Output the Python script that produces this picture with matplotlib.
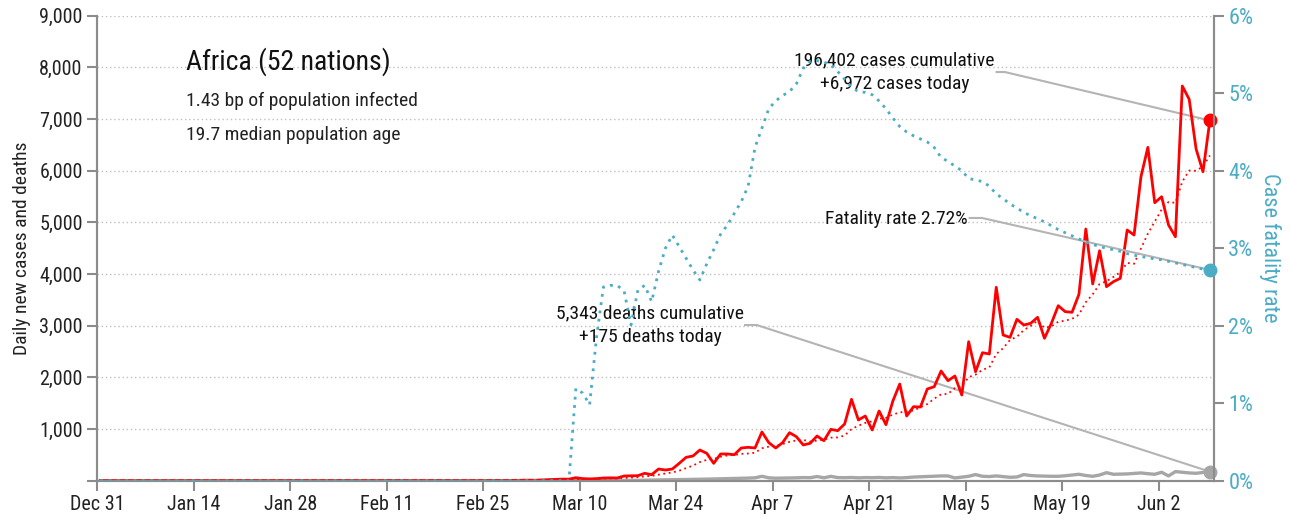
import matplotlib
matplotlib.use("Agg")
import matplotlib.pyplot as plt
from matplotlib import font_manager
import numpy as np

# narrow face first, DejaVu Sans as the fallback
installed = {f.name for f in font_manager.fontManager.ttflist}
wanted = ["Roboto Condensed", "Archivo Narrow", "Asap Condensed", "Liberation Sans Narrow"]
families = [n for n in wanted if n in installed][:1] + ["DejaVu Sans"]
plt.rcParams['font.family'] = families

# days counted from Dec 31 (index 0) to Jun 9 (index 161)
tick_days = [0, 14, 28, 42, 56, 70, 84, 98, 112, 126, 140, 154]
tick_labels = ["Dec 31", "Jan 14", "Jan 28", "Feb 11", "Feb 25", "Mar 10",
               "Mar 24", "Apr 7", "Apr 21", "May 5", "May 19", "Jun 2"]

# daily new cases
cases = [0] * 45 + [
    1, 0, 0, 0, 0, 0, 0, 0, 0, 0, 1, 2, 1, 3, 2, 5, 6, 10, 8,
    15, 20, 25, 30, 30, 58, 40, 35, 40, 52, 55, 52, 91, 95, 97, 143,
    116, 226, 207, 226, 336, 452, 478, 594, 530, 336, 517, 517, 503, 633,
    646, 633, 943, 736, 633, 736, 929, 852, 691, 724, 865, 774, 994, 968,
    1097, 1575, 1175, 1252, 981, 1349, 1084, 1542, 1871, 1252, 1432, 1426,
    1775, 1819, 2123, 1935, 2026, 1658, 2690, 2110, 2477, 2452, 3743, 2820,
    2774, 3124, 3013, 3046, 3162, 2756, 3046, 3387, 3272, 3259, 3607, 4871,
    3807, 4451, 3755, 3852, 3917, 4852, 4755, 5884, 6452, 5380, 5496, 4949,
    4722, 7639, 7381, 6420, 5980, 6972]

# 7-day average of cases
cases_avg = [0] * 45 + [
    0, 0, 0, 0, 0, 0, 0, 0, 0, 0, 0, 0, 1, 1, 1, 2, 2, 3, 4,
    5, 8, 11, 15, 18, 24, 31, 34, 37, 41, 44, 47, 52, 60, 69, 84,
    93, 117, 139, 159, 193, 244, 292, 360, 403, 422, 463, 489, 496, 519,
    526, 541, 627, 659, 675, 709, 751, 780, 789, 757, 776, 796, 833, 838,
    873, 1000, 1064, 1119, 1149, 1200, 1216, 1280, 1322, 1333, 1359, 1422,
    1483, 1588, 1671, 1680, 1791, 1823, 2004, 2052, 2146, 2193, 2451, 2564,
    2724, 2786, 2915, 2996, 3097, 2956, 2989, 3076, 3097, 3133, 3213, 3457,
    3607, 3808, 3860, 3943, 4037, 4215, 4198, 4495, 4781, 5013, 5248, 5395,
    5377, 5789, 6003, 5998, 6084, 6295]

# daily new deaths
deaths = [0] * 64 + [
    0, 0, 0, 0, 1, 1, 2, 3, 2, 3, 4, 5, 4, 6, 8, 10,
    12, 14, 15, 18, 20, 22, 25, 28, 30, 33, 35, 38, 40, 45, 50, 55,
    85, 55, 48, 50, 52, 55, 60, 58, 80, 56, 84, 60, 58, 62, 55, 60,
    58, 62, 55, 60, 53, 60, 70, 75, 79, 85, 92, 92, 53, 70, 85, 118,
    85, 80, 92, 80, 66, 72, 118, 100, 92, 88, 85, 85, 95, 110, 124,
    100, 85, 110, 155, 124, 128, 131, 140, 150, 135, 124, 163, 92, 176,
    163, 150, 143, 160, 175]

# case fatality rate, percent
cfr = [0] * 69 + [
    1.19, 1.13, 0.98, 1.85, 2.50, 2.52, 2.52, 2.45, 2.01, 2.46, 2.52,
    2.31, 2.70, 3.00, 3.17, 3.02, 2.87, 2.72, 2.59, 2.80, 2.98, 3.18,
    3.30, 3.45, 3.60, 3.80, 4.30, 4.55, 4.80, 4.90, 4.97, 5.02, 5.12,
    5.32, 5.41, 5.42, 5.40, 5.37, 5.28, 5.18, 5.08, 5.02, 5.01, 4.98,
    4.90, 4.80, 4.68, 4.57, 4.50, 4.45, 4.41, 4.37, 4.30, 4.17, 4.12,
    4.06, 4.00, 3.90, 3.88, 3.86, 3.80, 3.70, 3.64, 3.57, 3.52, 3.46,
    3.42, 3.38, 3.34, 3.29, 3.24, 3.20, 3.16, 3.12, 3.08, 3.05, 3.02,
    3.00, 2.98, 2.96, 2.93, 2.91, 2.89, 2.88, 2.86, 2.85, 2.83, 2.81,
    2.79, 2.77, 2.75, 2.73, 2.72]

RED = "#ff0000"
TEAL = "#4bacc6"
GRAY = "#a6a6a6"
AXIS = "#8c8c8c"
LINK = "#b4b4b4"

# data points sit near the middle of each day
x = np.arange(len(cases)) + 0.45

fig = plt.figure(figsize=(12.91, 5.20), dpi=100)
ax = fig.add_axes([0.0753, 0.0756, 0.8648, 0.8942])
ax2 = ax.twinx()

ax.set_xlim(0, 162)
ax.set_ylim(0, 9000)
ax2.set_ylim(0, 6)

ax.yaxis.grid(True, color="#c0c0c0", linestyle=(0, (1, 2)), linewidth=1)
ax.set_axisbelow(True)

ax.plot(x, deaths, color=GRAY, linewidth=2.4, zorder=3)
ax.plot(x, cases_avg, color=RED, linewidth=1.3, linestyle=(0, (1, 2)), zorder=4)
ax.plot(x, cases, color=RED, linewidth=2.0, zorder=5)
ax2.plot(x, cfr, color=TEAL, linewidth=2.0, linestyle=(0, (1, 2)), zorder=4)

ax.plot(x[-1], cases[-1], "o", color=RED, markersize=9, zorder=6, clip_on=False)
ax.plot(x[-1], deaths[-1], "o", color=GRAY, markersize=9, zorder=6, clip_on=False)
ax2.plot(x[-1], cfr[-1], "o", color=TEAL, markersize=9, zorder=6, clip_on=False)

# axes styling
for a in (ax, ax2):
    a.spines["top"].set_visible(False)
    for s in ("left", "right", "bottom"):
        a.spines[s].set_color(AXIS)
        a.spines[s].set_linewidth(1.5)

ax.set_xticks(tick_days)
ax.set_xticklabels(tick_labels)
ax.set_yticks(range(0, 9001, 1000))
ax.set_yticklabels([""] + [f"{v:,}" for v in range(1000, 9001, 1000)])
ax2.set_yticks(range(0, 7))
ax2.set_yticklabels([f"{v}%" for v in range(0, 7)])

ax.tick_params(axis="both", colors=AXIS, labelcolor="#222222", length=7,
               width=1.5, labelsize=14.5, direction="out")
ax2.tick_params(axis="y", colors=AXIS, labelcolor=TEAL, length=7,
                width=1.5, labelsize=16, direction="out")

ax.set_ylabel("Daily new cases and deaths", fontsize=14, color="#222222", labelpad=6)
ax2.set_ylabel("Case fatality rate", fontsize=16, color=TEAL, rotation=-90, labelpad=20)

# header text
fig.text(0.144, 0.881, "Africa (52 nations)", fontsize=20, color="#111111", va="center")
fig.text(0.144, 0.806, "1.43 bp of population infected", fontsize=14, color="#222222", va="center")
fig.text(0.144, 0.740, "19.7 median population age", fontsize=14, color="#222222", va="center")

# annotations with connector lines
ax.text(115.7, 7910, "196,402 cases cumulative\n+6,972 cases today", ha="center",
        va="center", fontsize=14, color="#111111", linespacing=1.4)
ax.plot([130.5, 131.7, x[-1]], [7910, 7910, cases[-1]], color=LINK, linewidth=1.5, zorder=2)

ax.text(115.9, 5065, "Fatality rate 2.72%", ha="center", va="center", fontsize=14, color="#111111")
ax2.plot([126.6, 128.4, x[-1]], [3.39, 3.39, cfr[-1]], color=LINK, linewidth=1.5, zorder=2)

ax.text(80.2, 3013, "5,343 deaths cumulative\n+175 deaths today", ha="center",
        va="center", fontsize=14, color="#111111", linespacing=1.4)
ax.plot([94.0, 95.7, x[-1]], [3013, 3013, deaths[-1]], color=LINK, linewidth=1.5, zorder=2)

fig.savefig("out.png", dpi=100)
